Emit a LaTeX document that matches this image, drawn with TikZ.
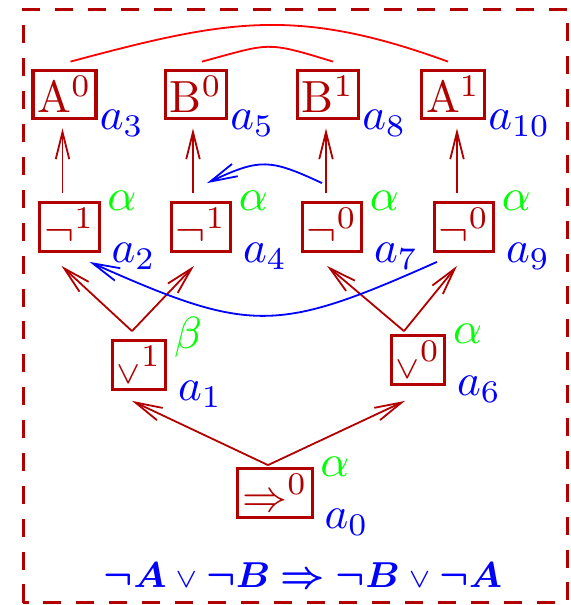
\documentclass[tikz,border=0pt]{standalone}
\usepackage{bm}
\usetikzlibrary{arrows.meta}
\colorlet{boxred}{red!70!black}
\tikzset{
  box/.style={draw=boxred, text=boxred, line width=0.7pt, inner sep=1pt, minimum height=10.8pt},
  dep/.style={->, boxred, line width=0.4pt},
  link/.style={red, line width=0.4pt},
  jump/.style={->, blue, line width=0.4pt},
  alp/.style={label={[text=green, inner sep=0pt, anchor=base west, xshift=1.3pt, yshift=-2pt]north east:$#1$}},
  num/.style={label={[text=blue, inner sep=0pt, anchor=base west, xshift=2.2pt, yshift=-2.2pt]south east:$#1$}},
  numtop/.style={label={[text=blue, inner sep=0pt, anchor=base west, xshift=0.3pt, yshift=-2pt]south east:$#1$}}
}
\begin{document}
\begin{tikzpicture}[x=0.222pt, y=0.222pt, >={Straight Barb[length=6pt,width=3pt]}]
 \useasboundingbox (0,0) rectangle (571,605);
 \draw[boxred, line width=0.7pt, dash pattern=on 4pt off 3.3pt] (23.5,2.5) rectangle (567.5,595.5);
 % subformulas
 \node[box, alp=\alpha, num=a_0] (a0) at (275,112) {$\Rightarrow^0$};
 \node[box, alp=\beta, num=a_1] (a1) at (139,240) {${\scriptstyle\vee}^1$};
 \node[box, alp=\alpha, num=a_6] (a6) at (418,245) {${\scriptstyle\vee}^0$};
 \node[box, alp=\alpha, num=a_2] (a2) at (69.5,378) {$\neg^1$};
 \node[box, alp=\alpha, num=a_4] (a4) at (201,378) {$\neg^1$};
 \node[box, alp=\alpha, num=a_7] (a7) at (332,378) {$\neg^0$};
 \node[box, alp=\alpha, num=a_9] (a9) at (464,378) {$\neg^0$};
 \node[box, numtop=a_3] (a3) at (64.5,510.5) {A$^0$};
 \node[box, numtop=a_5] (a5) at (196,510.5) {B$^0$};
 \node[box, numtop=a_8] (a8) at (328,510.5) {B$^1$};
 \node[box, numtop=a_{10}] (a10) at (453,510.5) {A$^1$};
 % tree
 \draw[dep] ([shift={(-7,2)}]a0.north) -- ([shift={(-7,-10)}]a1.south);
 \draw[dep] ([shift={(-7,2)}]a0.north) -- ([shift={(-13,-15)}]a6.south);
 \draw[dep] ([shift={(-7,8)}]a1.north) -- ([shift={(-8,-13)}]a2.south);
 \draw[dep] ([shift={(-7,8)}]a1.north) -- ([shift={(-7,-13)}]a4.south);
 \draw[dep] ([shift={(-14,3)}]a6.north) -- ([shift={(-5,-13)}]a7.south);
 \draw[dep] ([shift={(-14,3)}]a6.north) -- ([shift={(-7,-13)}]a9.south);
 \draw[dep] ([shift={(-7,8)}]a2.north) -- ([shift={(-2,-8)}]a3.south);
 \draw[dep] ([shift={(-8,8)}]a4.north) -- ([shift={(-3,-8)}]a5.south);
 \draw[dep] ([shift={(-6,8)}]a7.north) -- ([shift={(-2,-8)}]a8.south);
 \draw[dep] ([shift={(-7,8)}]a9.north) -- ([shift={(4,-8)}]a10.south);
 % links between atoms
 \draw[link] ([shift={(6,7)}]a3.north) to[out=15, in=160, looseness=1.1] ([shift={(-5,7)}]a10.north);
 \draw[link] ([shift={(6,7)}]a5.north) to[out=15, in=163, looseness=1.4] ([shift={(5,7)}]a8.north);
 % jumps
 \draw[jump] ([shift={(-10,18)}]a7.north) to[out=155, in=25, looseness=1.3] ([shift={(6,18)}]a4.north);
 \draw[jump] ([shift={(-27,-9)}]a9.south) to[out=-156, in=-24, looseness=1.3] ([shift={(20,-9)}]a2.south);
 \node[blue] (f) at (303,30) {\fontsize{8.5}{10}\selectfont$\bm{\neg A}\mathbin{\scriptstyle\vee}\bm{\neg B}\bm{\Rightarrow}\bm{\neg B}\mathbin{\scriptstyle\vee}\bm{\neg A}$};
\end{tikzpicture}
\end{document}
